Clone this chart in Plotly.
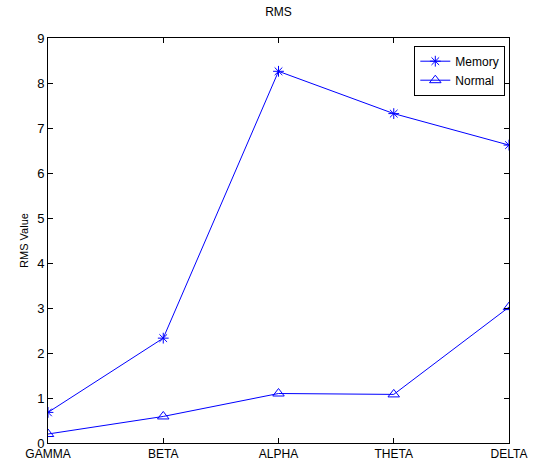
import plotly.graph_objects as go

categories = ["GAMMA", "BETA", "ALPHA", "THETA", "DELTA"]
memory = [0.68, 2.33, 8.26, 7.32, 6.62]
normal = [0.20, 0.59, 1.10, 1.08, 3.02]

font = dict(family="Liberation Sans, Arial, sans-serif", size=12, color="#000000")

fig = go.Figure()
fig.add_trace(go.Scatter(
    x=list(range(len(categories))), y=memory, name="Memory", mode="lines+markers",
    line=dict(color="#0000ff", width=1),
    marker=dict(symbol="asterisk-open", size=9, color="#0000ff", line=dict(width=1, color="#0000ff")),
))
fig.add_trace(go.Scatter(
    x=list(range(len(categories))), y=normal, name="Normal", mode="lines+markers",
    line=dict(color="#0000ff", width=1),
    marker=dict(symbol="triangle-up-open", size=10, color="#0000ff", line=dict(width=1, color="#0000ff")),
))

fig.update_layout(
    width=536, height=466,
    margin=dict(l=48, r=27, t=38, b=23),
    paper_bgcolor="white", plot_bgcolor="white",
    font=font,
    title=dict(text="RMS", x=0.5, xref="paper", xanchor="center", y=1 - 12 / 466, yanchor="middle",
               font=dict(size=12)),
    showlegend=True,
    legend=dict(x=0.992, y=0.981, xanchor="right", yanchor="top",
                bordercolor="#000000", borderwidth=1, bgcolor="white",
                font=dict(size=12), tracegroupgap=0, itemwidth=30),
)
fig.update_xaxes(
    range=[0, 4], tickmode="array", tickvals=list(range(len(categories))), ticktext=categories,
    showgrid=False, zeroline=False, showline=True, linecolor="#000000", linewidth=1,
    mirror="ticks", ticks="inside", ticklen=5, tickcolor="#000000", automargin=False,
    tickfont=dict(size=12),
)
fig.update_yaxes(
    range=[0, 9], dtick=1, title=dict(text="RMS Value", standoff=6, font=dict(size=11)),
    showgrid=False, zeroline=False, showline=True, linecolor="#000000", linewidth=1,
    mirror="ticks", ticks="inside", ticklen=5, tickcolor="#000000", automargin=False,
    tickfont=dict(size=13),
)

fig.write_html("out.html", config={"displayModeBar": False},
               post_script="document.body.style.margin='0';document.body.style.overflow='hidden';")
